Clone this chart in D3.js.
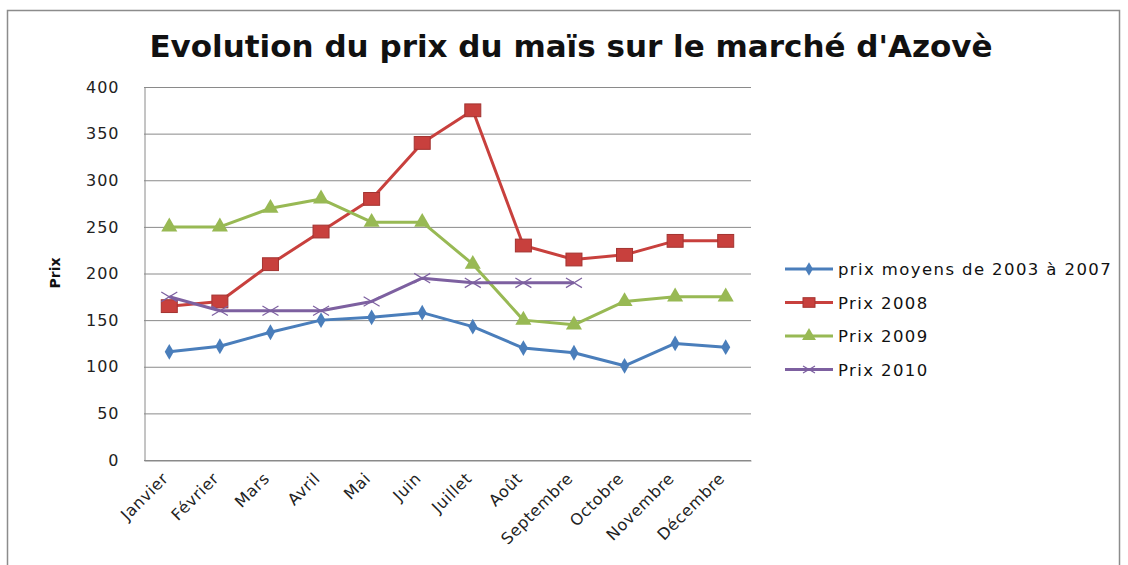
<!DOCTYPE html>
<html>
<head>
<meta charset="utf-8">
<script src="https://cdn.jsdelivr.net/npm/d3@7"></script>
<style>
  body { margin: 0; background: #fff; }
  text { font-family: "DejaVu Sans", "Open Sans", sans-serif; }
</style>
</head>
<body>
<div id="chart"></div>
<script>
var months = ["Janvier", "Février", "Mars", "Avril", "Mai", "Juin", "Juillet", "Août", "Septembre", "Octobre", "Novembre", "Décembre"];
var moyen = [116, 122, 137, 150, 153, 158, 143, 120, 115, 101, 125, 121];
var prix2008 = [165, 170, 210, 245, 280, 340, 375, 230, 215, 220, 235, 235];
var prix2009 = [250, 250, 270, 280, 255, 255, 210, 150, 145, 170, 175, 175];
var prix2010 = [175, 160, 160, 160, 170, 195, 190, 190, 190];
var yTicks = [0, 50, 100, 150, 200, 250, 300, 350, 400];

var series = [
  {name: "prix moyens de 2003 à 2007", values: moyen, color: "#4a7ebb", shape: "diamond"},
  {name: " Prix 2008", values: prix2008, color: "#c8403d", shape: "square"},
  {name: "Prix 2009", values: prix2009, color: "#98b954", shape: "triangle"},
  {name: "Prix 2010", values: prix2010, color: "#7d60a0", shape: "cross"}
];

var w = 1128, h = 565;
var plotL = 144, plotR = 751, plotT = 87, plotB = 460;

var svg = d3.select("#chart").append("svg")
  .attr("width", w).attr("height", h);

// frame
svg.append("rect")
  .attr("x", 7.5).attr("y", 10.5)
  .attr("width", 1112).attr("height", 570)
  .attr("fill", "#fff").attr("stroke", "#8c8c8c").attr("stroke-width", 1.5);

svg.append("text")
  .attr("x", 571).attr("y", 57)
  .attr("text-anchor", "middle")
  .attr("font-size", 31).attr("font-weight", "bold")
  .attr("fill", "#111")
  .text("Evolution du prix du maïs sur le marché d'Azovè");

var x = d3.scaleBand().domain(months).range([plotL, plotR]);
var y = d3.scaleLinear().domain([0, 400]).range([plotB, plotT]);

// grid lines
svg.append("g").selectAll("line")
  .data(yTicks)
  .enter().append("line")
  .attr("x1", plotL).attr("x2", plotR)
  .attr("y1", d => y(d) + 0.5).attr("y2", d => y(d) + 0.5)
  .attr("stroke", "#8a8a8a").attr("stroke-width", 1);

var yAxis = d3.axisLeft(y).tickValues(yTicks).tickSize(0).tickPadding(25);
var gy = svg.append("g")
  .attr("transform", "translate(" + (plotL + 0.5) + ",0)")
  .call(yAxis);
gy.select(".domain").attr("stroke", "#8a8a8a");
gy.selectAll("text").attr("font-size", 16).attr("fill", "#222")
  .style("font-family", "DejaVu Sans").attr("letter-spacing", 1);

var xAxis = d3.axisBottom(x).tickSize(0);
var gx = svg.append("g")
  .attr("transform", "translate(0," + (plotB + 0.5) + ")")
  .call(xAxis);
gx.select(".domain").attr("stroke", "#8a8a8a");
gx.selectAll("text")
  .attr("font-size", 16).attr("fill", "#222")
  .attr("letter-spacing", 0.6)
  .attr("text-anchor", "end")
  .attr("y", 0).attr("dy", 0)
  .attr("transform", "translate(0,19) rotate(-45)");

svg.append("text")
  .attr("transform", "translate(60,273) rotate(-90)")
  .attr("text-anchor", "middle")
  .attr("font-size", 14).attr("font-weight", "bold")
  .attr("fill", "#111")
  .text("Prix");

var line = d3.line()
  .x((d, i) => x(months[i]) + x.bandwidth() / 2)
  .y(d => y(d));

function marker(g, shape, color, size) {
  if (shape == "diamond") {
    g.append("path").attr("d", d3.symbol(d3.symbolDiamond, size * 9)()).attr("fill", color);
  } else if (shape == "square") {
    g.append("rect").attr("x", -size).attr("y", -size * 0.8)
      .attr("width", size * 2).attr("height", size * 1.6)
      .attr("fill", color).attr("stroke", "#a33330").attr("stroke-width", 1);
  } else if (shape == "triangle") {
    g.append("path").attr("d", d3.symbol(d3.symbolTriangle, size * 14)()).attr("fill", color);
  } else {
    g.append("path")
      .attr("d", "M" + (-size) + "," + (-size * 0.6) + "L" + size + "," + (size * 0.6) + "M" + (-size) + "," + (size * 0.6) + "L" + size + "," + (-size * 0.6))
      .attr("stroke", color).attr("stroke-width", 1.2).attr("fill", "none");
  }
}

series.forEach(s => {
  svg.append("path")
    .datum(s.values)
    .attr("d", line)
    .attr("fill", "none")
    .attr("stroke", s.color)
    .attr("stroke-width", 3)
    .attr("stroke-linejoin", "round");
  s.values.forEach((v, i) => {
    var g = svg.append("g")
      .attr("transform", "translate(" + (x(months[i]) + x.bandwidth() / 2) + "," + y(v) + ")");
    marker(g, s.shape, s.color, 8);
  });
});

// legend
var legend = svg.append("g").attr("transform", "translate(785,269)");
series.forEach((s, i) => {
  var g = legend.append("g").attr("transform", "translate(0," + (i * 33.5) + ")");
  g.append("line").attr("x1", 0).attr("x2", 48).attr("y1", 0).attr("y2", 0)
    .attr("stroke", s.color).attr("stroke-width", 3);
  var m = g.append("g").attr("transform", "translate(24,0)");
  marker(m, s.shape, s.color, 6);
  g.append("text").attr("x", 53).attr("y", 6)
    .attr("font-size", 16.5).attr("fill", "#111")
    .attr("letter-spacing", 1.4)
    .text(s.name);
});
</script>
</body>
</html>
